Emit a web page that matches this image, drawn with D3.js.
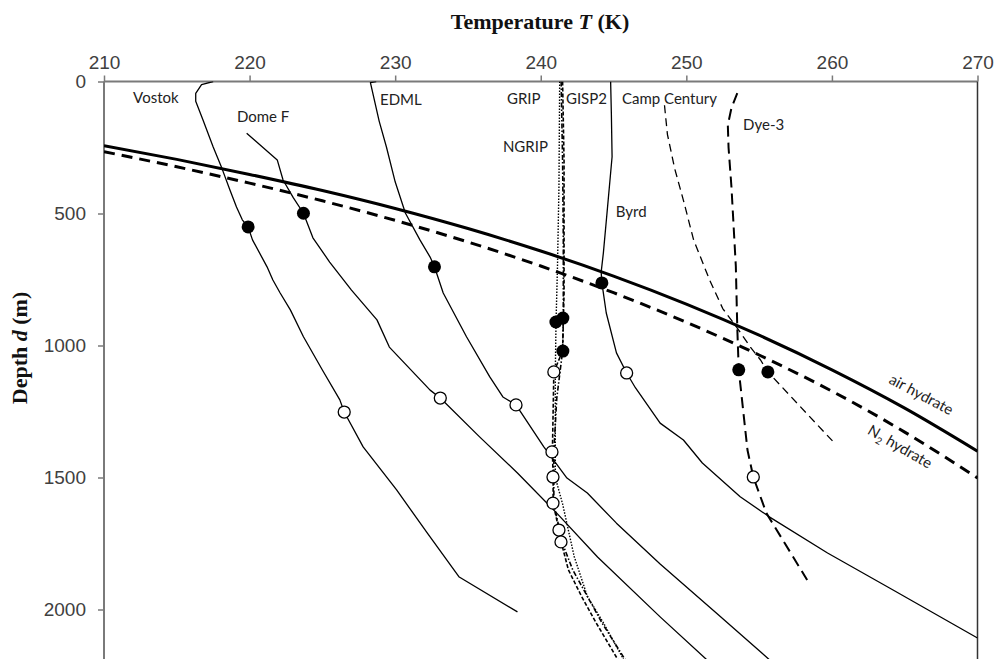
<!doctype html>
<meta charset="utf-8" />
<style>
    body { margin: 0; background: #fff; }
    svg { display: block; }
    .tick-label { font-family: "Liberation Sans", Arial, sans-serif; font-size: 19px; fill: #404040; }
    .core-label { font-family: Lato, "Open Sans", sans-serif; font-size: 15px; fill: #222; }
    .axis-title { font-family: "Liberation Serif", "Times New Roman", serif; font-size: 22px; font-weight: bold; fill: #111; }
</style>
<svg></svg>

<script src="https://cdn.jsdelivr.net/npm/d3@7"></script>
<script>
    // ---- data: [temperature K, depth m] ----
    var xTicks = [210, 220, 230, 240, 250, 260, 270];
    var yTicks = [0, 500, 1000, 1500, 2000];

    var airHydrate = [[210, 243], [215, 295], [220, 352], [225, 413], [230, 481], [235, 557], [240, 642],
        [245, 737], [250, 843], [255, 961], [260, 1092], [265, 1237], [270, 1400]];
    var n2Hydrate = [[210, 266], [215, 323], [220, 385], [225, 452], [230, 526], [235, 608], [240, 699],
        [245, 800], [250, 912], [255, 1036], [260, 1173], [265, 1328], [270, 1502]];

    var vostok = [[217.5, 0], [216.7, 12], [216.3, 45], [216.3, 75], [216.8, 146], [217.5, 248], [218.1, 329],
        [218.65, 411], [219.1, 475], [219.5, 524], [219.9, 551], [220.2, 600], [221.2, 702], [221.6, 752],
        [222.1, 801], [222.8, 865], [223.7, 967], [225.0, 1093], [226.2, 1206], [226.5, 1252], [227.8, 1384],
        [230.1, 1547], [232.2, 1710], [234.4, 1877], [238.4, 2009]];
    var domeF = [[219.8, 196], [221.9, 297], [222.3, 373], [223.0, 440], [223.7, 499], [224.35, 592],
        [225.5, 684], [227.0, 790], [228.75, 903], [229.6, 1006], [232.4, 1169], [233.1, 1199], [235.8, 1346],
        [238.4, 1483], [241.1, 1635], [243.9, 1801], [248.2, 2028], [251.4, 2190]];
    var edml = [[228.7, 0], [228.3, 4], [228.9, 150], [229.4, 248], [230.0, 380], [230.7, 498], [231.7, 600],
        [232.4, 665], [232.7, 702], [233.3, 801], [234.9, 967], [236.5, 1119], [237.4, 1195], [238.3, 1225],
        [240.2, 1383], [241.8, 1502], [243.2, 1559], [245.2, 1673], [248.2, 1828], [252.0, 2010], [255.7, 2190]];
    var byrd = [[244.8, 0], [244.85, 120], [244.9, 285], [244.55, 499], [244.3, 650], [244.15, 722],
        [244.2, 763], [244.5, 877], [245.2, 1028], [245.9, 1104], [246.5, 1160], [248.2, 1294], [249.8, 1358],
        [251.1, 1445], [253.7, 1573], [255.7, 1649], [259.7, 1786], [264.2, 1926], [270, 2108]];
    var campCentury = [[248.5, 90], [248.7, 200], [249.2, 330], [249.8, 450], [250.5, 600], [251.6, 752],
        [252.5, 860], [253.5, 934], [254.4, 1006], [255.1, 1055], [255.6, 1100], [257.8, 1230], [260.1, 1365]];
    var dye3 = [[253.5, 44], [253.1, 100], [252.85, 165], [252.9, 250], [253.1, 400], [253.2, 500],
        [253.4, 700], [253.5, 934], [253.6, 1092], [254.2, 1396], [254.6, 1498], [255.5, 1635], [258.3, 1888]];
    var grip = [[241.4, 0], [241.5, 300], [241.55, 600], [241.55, 896], [241.5, 1021], [241.1, 1200],
        [240.9, 1400], [240.9, 1600], [241.3, 1700], [241.45, 1744], [242.2, 1850], [243.2, 1950],
        [244.2, 2050], [245.8, 2190]];
    var gisp2 = [[241.5, 0], [241.6, 300], [241.6, 600], [241.6, 800], [241.5, 1021], [240.9, 1100],
        [240.8, 1403], [240.85, 1498], [240.85, 1597], [241.25, 1699], [241.4, 1744], [241.9, 1850],
        [242.8, 1950], [243.8, 2050], [245.3, 2190]];
    var ngrip = [[241.3, 0], [241.25, 400], [241.15, 700], [241.05, 911], [241.0, 1100], [241.0, 1300],
        [241.0, 1500], [241.5, 1600], [241.9, 1700], [242.3, 1800], [243.2, 1950], [244.3, 2050], [245.7, 2190]];

    // filled = start of transition, open = end of transition
    var filledMarkers = [[219.9, 551], [223.7, 499], [232.7, 702], [241.04, 911], [241.52, 896],
        [241.52, 1021], [244.2, 763], [253.6, 1092], [255.6, 1100]];
    var openMarkers = [[226.5, 1252], [233.1, 1199], [238.3, 1225], [245.9, 1104], [254.6, 1498],
        [240.9, 1100], [240.77, 1403], [240.84, 1498], [240.84, 1597], [241.25, 1699], [241.39, 1744]];

    var coreNames = ["Vostok", "Dome F", "EDML", "GRIP", "GISP2", "Camp Century", "NGRIP", "Byrd", "Dye-3"];
    var coreLabelAt = [[212.0, 81], [219.13, 153], [228.96, 89], [237.68, 85], [241.73, 85], [245.58, 85],
        [237.4, 267], [245.16, 513], [253.9, 184]];

    // ---- layout ----
    var W = 995, H = 659;
    var svg = d3.select('svg').attr('width', W).attr('height', H);

    var x = d3.scaleLinear().domain([210, 270]).range([104, 977.5]);
    var y = d3.scaleLinear().domain([0, 2000]).range([81.5, 609.5]);

    svg.append('clipPath').attr('id', 'plot')
        .append('rect').attr('x', x(210)).attr('y', y(0)).attr('width', x(270) - x(210)).attr('height', H);

    // axes
    var xAxis = d3.axisTop(x).tickValues(xTicks).tickSize(6).tickPadding(7);
    var gx = svg.append('g').attr('transform', 'translate(0,' + y(0) + ')').call(xAxis);
    var yAxis = d3.axisLeft(y).tickValues(yTicks).tickFormat(d3.format('d')).tickSize(6).tickPadding(12);
    var gy = svg.append('g').attr('transform', 'translate(' + x(210) + ',0)').call(yAxis);
    [gx, gy].forEach(function (g) {
        g.select('.domain').remove();
        g.selectAll('line').attr('stroke', '#7a7a7a').attr('stroke-width', 1.5);
        g.selectAll('text').attr('class', 'tick-label').attr('fill', null);
    });
    svg.append('line').attr('x1', x(210)).attr('x2', x(270)).attr('y1', y(0)).attr('y2', y(0))
        .attr('stroke', '#7a7a7a').attr('stroke-width', 1.8);
    svg.append('line').attr('x1', x(210)).attr('x2', x(210)).attr('y1', y(0)).attr('y2', H)
        .attr('stroke', '#7a7a7a').attr('stroke-width', 2);
    svg.append('line').attr('x1', x(270)).attr('x2', x(270)).attr('y1', y(0)).attr('y2', H)
        .attr('stroke', '#333').attr('stroke-width', 1.5);

    var title = svg.append('text').attr('class', 'axis-title')
        .attr('x', 540).attr('y', 29).attr('text-anchor', 'middle');
    title.append('tspan').text('Temperature ');
    title.append('tspan').attr('font-style', 'italic').text('T');
    title.append('tspan').text(' (K)');

    var ylab = svg.append('text').attr('class', 'axis-title')
        .attr('transform', 'translate(27,348) rotate(-90)').attr('text-anchor', 'middle');
    ylab.append('tspan').text('Depth ');
    ylab.append('tspan').attr('font-style', 'italic').text('d');
    ylab.append('tspan').text(' (m)');

    // lines
    var plot = svg.append('g').attr('clip-path', 'url(#plot)');
    var line = d3.line().x(function (p) { return x(p[0]); }).y(function (p) { return y(p[1]); });
    var smooth = d3.line().curve(d3.curveMonotoneX)
        .x(function (p) { return x(p[0]); }).y(function (p) { return y(p[1]); });

    function draw(data, gen, width, dash) {
        plot.append('path').attr('d', gen(data)).attr('fill', 'none')
            .attr('stroke', '#000').attr('stroke-width', width)
            .attr('stroke-dasharray', dash || null)
            .attr('stroke-linejoin', 'round');
    }

    draw(airHydrate, smooth, 3);
    draw(n2Hydrate, smooth, 3, '11,7');
    draw(vostok, line, 1.3);
    draw(domeF, line, 1.3);
    draw(edml, line, 1.3);
    draw(byrd, line, 1.3);
    draw(campCentury, line, 1.3, '8,5');
    draw(dye3, line, 2, '11,6');
    draw(grip, line, 1.6, '5,2,1.5,2');
    draw(gisp2, line, 1.6, '4,2');
    draw(ngrip, line, 1.4, '1.5,1.5');

    // markers
    plot.selectAll('.open').data(openMarkers).join('circle')
        .attr('cx', function (p) { return x(p[0]); }).attr('cy', function (p) { return y(p[1]); })
        .attr('r', 6).attr('fill', '#fff').attr('stroke', '#000').attr('stroke-width', 1.3);
    plot.selectAll('.filled').data(filledMarkers).join('circle')
        .attr('cx', function (p) { return x(p[0]); }).attr('cy', function (p) { return y(p[1]); })
        .attr('r', 6.5).attr('fill', '#000');

    // labels
    svg.selectAll('.core-label').data(coreNames).join('text')
        .attr('class', 'core-label')
        .attr('x', function (d, i) { return x(coreLabelAt[i][0]); })
        .attr('y', function (d, i) { return y(coreLabelAt[i][1]); })
        .text(function (d) { return d; });

    svg.append('text').attr('class', 'core-label').attr('text-anchor', 'middle')
        .attr('transform', 'translate(' + x(265.97) + ',' + y(1203) + ') rotate(28)')
        .text('air hydrate');
    var n2 = svg.append('text').attr('class', 'core-label').attr('text-anchor', 'middle')
        .attr('transform', 'translate(' + x(264.5) + ',' + y(1400) + ') rotate(30)');
    n2.append('tspan').text('N');
    n2.append('tspan').attr('font-size', '10px').attr('dy', 4).text('2');
    n2.append('tspan').attr('dy', -4).text(' hydrate');
</script>
